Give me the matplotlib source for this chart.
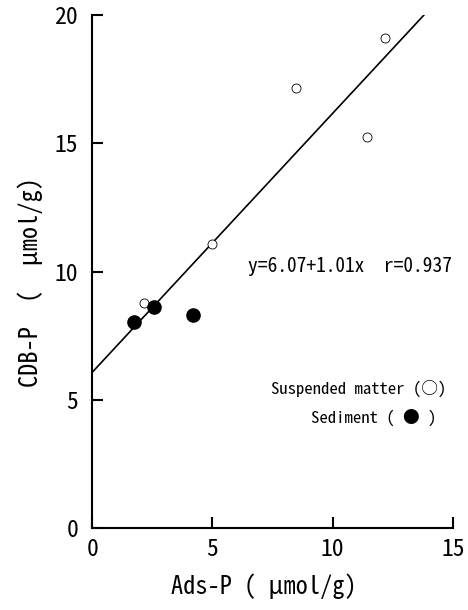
import numpy as np
from matplotlib import pyplot as plt

# values
susp_x = [2.16, 4.96, 8.49, 11.42, 12.17]
susp_y = [8.76, 11.07, 17.17, 15.25, 19.10]
sed_x = [1.73, 2.57, 4.21]
sed_y = [8.03, 8.60, 8.30]
intercept, slope, r = 6.07, 1.01, 0.937
xticks = [0, 5, 10, 15]
yticks = [0, 5, 10, 15, 20]

plt.rcParams['font.family'] = ['Noto Sans Mono CJK JP', 'DejaVu Sans Mono']

fig = plt.figure(figsize=(4.68, 6.10), dpi=100)
ax = fig.add_axes([0.197, 0.1344, 0.771, 0.841])

xl = np.array([0, (20 - intercept) / slope])
ax.plot(xl, intercept + slope * xl, 'k-', lw=1.2)
ax.plot(susp_x, susp_y, 'o', mfc='white', mec='k', mew=0.6, ms=6.5, ls='none')
ax.plot(sed_x, sed_y, 'o', mfc='k', mec='k', ms=9.5, ls='none')

ax.set_xlim(0, 15)
ax.set_ylim(0, 20)
ax.set_xticks(xticks)
ax.set_yticks(yticks)
for s in ['top', 'right']:
    ax.spines[s].set_visible(False)
for s in ['left', 'bottom']:
    ax.spines[s].set_linewidth(1.5)
ax.tick_params(direction='in', length=8, width=1.5, labelsize=17)
ax.tick_params(axis='x', pad=7)
ax.tick_params(axis='y', pad=10)

ax.set_xlabel('Ads-P ( \u03bcmol/g)', fontsize=17.5)
ax.xaxis.set_label_coords(0.476, -0.088)
ax.set_ylabel('CDB-P  (  \u03bcmol/g)', fontsize=17.5)
ax.yaxis.set_label_coords(-0.135, 0.48)

ax.text(0.997, 0.509, 'y=%.2f+%.2fx  r=%.3f' % (intercept, slope, r),
        transform=ax.transAxes, ha='right', va='center', fontsize=14)
ax.text(0.98, 0.272, 'Suspended matter (\u25cb)', transform=ax.transAxes,
        ha='right', va='center', fontsize=12)
ax.text(0.955, 0.216, 'Sediment ( \u25cf )', transform=ax.transAxes,
        ha='right', va='center', fontsize=12)

plt.savefig('out.png', dpi=100)
